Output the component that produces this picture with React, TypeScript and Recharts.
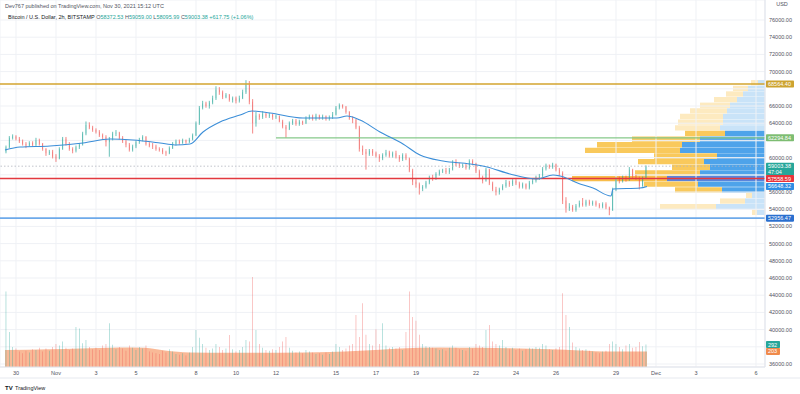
import { ComposedChart, BarChart, Bar, Line, Area, XAxis, YAxis, CartesianGrid, ReferenceLine, Cell } from 'recharts'

// 4h candles from Oct 29 12:00 UTC (day 0 = Oct 30 00:00)
const START_DAY = -0.5
const FIRST_OPEN = 60700

const closes = [
  61200, 62300, 62450,
  62200, 61900, 61600, 61400, 61700, 61500,
  62000, 61600, 61000, 60500, 60700, 60100,
  59900, 61000, 62200, 61600, 61000, 60800,
  61200, 61500, 62800, 63800, 63500, 63200,
  63000, 62600, 62400, 61800, 62200, 62800,
  62900, 62300, 61900, 61500, 60900, 61300,
  61800, 62100, 62400, 61600, 61400, 61300,
  61000, 60900, 60600, 60500, 61100, 61600,
  61900, 61700, 62000, 61800, 62100, 62600,
  64000, 65800, 66300, 66000, 66400, 66900,
  67900, 67600, 67000, 67300, 66700, 66900,
  66600, 66900, 67600, 68500, 66500, 64000,
  64900, 64700, 65100, 64800, 65000, 64700,
  64800, 64200, 63600, 63300, 64000, 64300,
  63900, 64200, 64000, 64600, 64800, 64500,
  64900, 64600, 64800, 64500, 64700, 65000,
  65800, 66100, 65900, 65300, 64600, 64400,
  63500, 61000, 60700, 60400, 60800, 60500,
  60200, 59900, 60300, 60600, 60200, 60500,
  60100, 59800, 60300, 59900, 58500, 57200,
  56900, 56400, 56600, 57100, 57700, 57600,
  58100, 58400, 58500, 58300, 58600, 59500,
  59200, 59000, 59100, 58800, 59600, 59300,
  58400, 57700, 57300, 58600, 57000, 56300,
  56000, 56300, 56700, 57100, 56900, 57300,
  57000, 56600, 56900, 56500, 57100, 57300,
  57700, 57900, 58700, 59100, 58900, 59200,
  58600, 58200, 55000, 54100, 54300, 53900,
  54400, 54700, 54500, 54900, 54600, 54800,
  54500, 54300, 54600, 54200, 53900, 56300,
  57600, 57300, 57700, 57500, 58600, 57800,
  57600, 56700, 57600, 59000,
]

const highs = [
  61400, 62500, 62700,
  62600, 62400, 62100, 61800, 61900, 61900,
  62300, 62200, 61700, 61100, 60900, 60900,
  60400, 61200, 62400, 62400, 61800, 61200,
  61400, 61700, 63000, 64200, 64100, 63700,
  63400, 63200, 62800, 62600, 62400, 63000,
  63200, 63000, 62500, 62100, 61700, 61500,
  62000, 62300, 62600, 62500, 61800, 61700,
  61500, 61200, 61100, 60800, 61300, 61800,
  62100, 62100, 62200, 62100, 62300, 62800,
  64200, 66000, 66600, 66500, 66600, 67200,
  68300, 68200, 67800, 67500, 67400, 67100,
  67100, 67200, 67900, 69000, 68900, 66800,
  65300, 65100, 65400, 65200, 65200, 65100,
  65000, 64900, 64400, 63800, 64200, 64500,
  64500, 64400, 64300, 64800, 65000, 65000,
  65100, 65000, 65000, 64900, 64900, 65300,
  66000, 66300, 66200, 66000, 65400, 64800,
  64500, 63700, 61400, 61000, 61000, 61000,
  60700, 60400, 60500, 60900, 60800, 60700,
  60800, 60300, 60500, 60500, 60000, 58700,
  57500, 57100, 56800, 57300, 57900, 58000,
  58300, 58600, 58700, 58800, 58800, 59700,
  59800, 59400, 59300, 59300, 59800, 59800,
  59400, 58600, 57900, 58800, 58700, 57200,
  56600, 56500, 56900, 57400, 57300, 57500,
  57500, 57200, 57100, 57000, 57300, 57600,
  57900, 58100, 58900, 59300, 59200, 59400,
  59300, 58800, 58400, 55400, 54700, 54500,
  54600, 55000, 55300, 55100, 55100, 55000,
  55000, 54700, 54800, 54800, 54300, 56500,
  57700, 57800, 57900, 57900, 58900, 58700,
  58000, 57800, 57800, 59100,
]

const lows = [
  60500, 61100, 62100,
  62000, 61700, 61400, 61100, 61300, 61300,
  61300, 61400, 60800, 60200, 60300, 59900,
  59500, 59800, 60900, 61400, 60800, 60500,
  60600, 61000, 61400, 62600, 63300, 63000,
  62800, 62400, 62100, 61300, 60100, 62000,
  62500, 62100, 61700, 61200, 60700, 60700,
  61100, 61600, 61900, 61400, 61200, 61000,
  60800, 60700, 60400, 60200, 60400, 61000,
  61400, 61500, 61600, 61600, 61700, 62000,
  62500, 63800, 65600, 65800, 65700, 66200,
  66700, 67300, 66800, 66900, 66500, 66400,
  66300, 66400, 66800, 67400, 66200, 62800,
  63600, 64400, 64500, 64600, 64600, 64400,
  64500, 64100, 63400, 62300, 63200, 63800,
  63700, 63700, 63800, 63900, 64400, 64300,
  64300, 64400, 64400, 64300, 64300, 64500,
  64900, 65600, 65700, 65100, 64400, 64000,
  63300, 60700, 60300, 58600, 60200, 60200,
  60000, 59500, 59700, 60100, 60000, 60000,
  59900, 59500, 59600, 59700, 58300, 56800,
  56500, 55700, 56100, 56400, 56900, 57300,
  57400, 57900, 58200, 58100, 58100, 58500,
  59000, 58800, 58800, 58600, 58600, 59100,
  58200, 57500, 57000, 57200, 56800, 56100,
  55600, 55700, 56200, 56500, 56600, 56700,
  56800, 56400, 56400, 56300, 56300, 56900,
  57100, 57400, 57700, 58500, 58700, 58700,
  58400, 57900, 54600, 53600, 53800, 53700,
  53700, 54200, 54300, 54300, 54400, 54400,
  54300, 54100, 54100, 54000, 53300, 53800,
  56100, 57000, 57100, 57200, 57300, 57600,
  57400, 56300, 56600, 57500,
]

const volumes = [
  980, 455, 260,
  240, 200, 180, 210, 190, 230,
  220, 250, 200, 240, 210, 260,
  300, 280, 330, 250, 220, 240,
  520, 500, 310, 350, 260, 230,
  250, 220, 280, 300, 570, 290,
  230, 260, 240, 210, 280, 250,
  220, 260, 240, 280, 200, 190,
  180, 170, 210, 190, 230, 200,
  170, 160, 180, 150, 190, 260,
  480, 380, 300, 250, 220, 240,
  300, 260, 220, 240, 415, 230,
  200, 220, 260, 350, 330, 1170,
  480, 300, 250, 220, 210, 230,
  220, 260, 330, 390, 250, 210,
  190, 200, 180, 220, 200, 190,
  170, 180, 160, 190, 170, 200,
  300, 260, 220, 240, 280, 300,
  675, 390, 830, 420, 300, 280,
  490, 300, 570, 280, 250, 260,
  240, 260, 220, 455, 980, 650,
  600, 420, 300, 270, 260, 250,
  240, 220, 230, 210, 250, 280,
  250, 230, 220, 210, 260, 240,
  300, 280, 260, 480, 545, 330,
  300, 280, 350, 260, 230, 250,
  220, 240, 210, 230, 250, 240,
  260, 250, 300, 280, 230, 220,
  240, 260, 960, 675, 520, 320,
  260, 240, 220, 230, 210, 200,
  190, 180, 200, 210, 300, 330,
  300, 260, 230, 280, 300, 250,
  260, 325, 270, 292,
]

// moving average (blue line), read at these days
const maDays = [-0.55, 0.2, 1.7, 3.35, 4.7, 5.85, 7.2, 7.95, 8.7, 9.35, 10.2, 11.2, 11.8, 12.7, 14.35, 16.05, 16.55, 17.2, 18.2, 19.35, 20.2, 21.35, 22.7, 23.55, 24.7, 26.05, 26.85, 27.2, 28.2, 28.85, 29.75, 29.85, 31.2, 31.55]
const maValues = [60880, 61230, 61350, 61700, 62160, 62050, 61700, 61470, 61580, 62980, 64140, 64950, 65420, 65190, 64600, 64600, 64840, 64370, 62980, 61580, 60300, 59600, 59260, 58910, 58090, 57510, 57980, 57860, 56930, 56460, 55530, 56350, 56460, 56648]

// volume moving average (orange area)
const volMaDays = [-0.55, 1.7, 3.2, 5.2, 6.45, 7.45, 8.7, 10.7, 13.2, 15.7, 17.2, 19.2, 21.2, 23.2, 24.7, 26.7, 28.2, 29.7, 31.55]
const volMaValues = [220, 230, 240, 255, 250, 215, 190, 185, 185, 195, 210, 240, 255, 250, 245, 230, 215, 200, 203]

// visible range volume profile rows (top to bottom)
const profilePrices = [68690, 68030, 67380, 66720, 66070, 65410, 64760, 64100, 63450, 62790, 62140, 61480, 60830, 60170, 59520, 58860, 58210, 57550, 56900, 56240, 55590, 54930, 54280, 53620]
const profileUp = [7, 17, 22, 28, 35, 38, 42, 42, 45, 40, 65, 83, 85, 48, 61, 55, 65, 98, 67, 43, 13, 20, 49, 8]
const profileDown = [7, 15, 17, 23, 30, 37, 43, 45, 45, 40, 68, 85, 95, 63, 66, 38, 65, 95, 54, 47, 6, 25, 56, 5]
const VA_HIGH = 62790
const VA_LOW = 56240
const POC = 57550

const priceTicks = [36000, 38000, 40000, 42000, 44000, 46000, 48000, 50000, 52000, 54000, 56000, 58000, 60000, 62000, 64000, 66000, 68000, 70000, 72000, 74000, 76000]
// tick labels that sit under the price tags
const hiddenTicks = [38000, 58000, 62000, 68000]
const dayTicks = [0, 2, 4, 6, 9, 11, 13, 16, 18, 20, 23, 25, 27, 30, 32, 34, 37]
const dayLabels = ['30', 'Nov', '3', '5', '8', '10', '12', '15', '17', '19', '22', '24', '26', '29', 'Dec', '3', '6']

const LEVEL_TOP = 68564.4
const LEVEL_GREEN = 62294.84
const LEVEL_POC = 57558.59
const LEVEL_LOW = 52956.47
const LAST_PRICE = 59003.38
const MA_LAST = 56648.32
const LAST_VOL = 292
const VOL_MA_LAST = 203

const X_DOMAIN: [number, number] = [-0.8, 37.45]
const P_DOMAIN: [number, number] = [35651, 78326]
const V_DOMAIN: [number, number] = [0, 4771]

const UP = '#26a69a'
const DOWN = '#ef5350'
const FONT = '"Liberation Sans", Arial, sans-serif'

const candles = closes.map((c, i) => {
  const o = i === 0 ? FIRST_OPEN : closes[i - 1]
  return { t: START_DAY + i / 6, o, h: highs[i], l: lows[i], c, range: [lows[i], highs[i]], vol: volumes[i] }
})
const maData = maDays.map((t, i) => ({ t, v: maValues[i] }))
const volMaData = volMaDays.map((t, i) => ({ t, v: volMaValues[i] }))
const profileRows = profilePrices.map((p, i) => ({ p, up: profileUp[i], down: profileDown[i] }))

function CandleShape(props: any) {
  const { x, y, width, height, payload } = props
  if (!payload || height == null) return null
  const { o, h, l, c } = payload
  const top = Math.min(y, y + height)
  const span = Math.abs(height)
  const k = h === l ? 0 : span / (h - l)
  const py = (v: number) => top + (h - v) * k
  const col = c >= o ? UP : DOWN
  const cx = x + width / 2
  const bTop = py(Math.max(o, c))
  const bH = Math.max(py(Math.min(o, c)) - bTop, 0.7)
  return (
    <g>
      <line x1={cx} x2={cx} y1={top} y2={top + span} stroke={col} strokeWidth={0.7} />
      <rect x={x} y={bTop} width={width} height={bH} fill={col} />
    </g>
  )
}

function tag(text: string, bg: string, w = 28, sub?: string) {
  return (props: any) => {
    const vb = props.viewBox
    if (!vb) return null
    const x = vb.x + vb.width + 1
    const y = vb.y
    const h = sub ? 13 : 7
    return (
      <g>
        <rect x={x} y={y - 3.5} width={w} height={h} fill={bg} rx={0.8} />
        <text x={x + 2} y={y + 2} fontSize={5.5} fill="#fff" fontFamily={FONT}>{text}</text>
        {sub && <text x={x + 2} y={y + 8} fontSize={5.5} fill="#fff" fontFamily={FONT}>{sub}</text>}
      </g>
    )
  }
}

function profileColor(p: number, side: 'up' | 'down') {
  const inVa = p <= VA_HIGH + 1 && p >= VA_LOW - 1
  if (p === POC) return side === 'up' ? '#5a84dc' : '#f8bd4a'
  if (side === 'up') return inVa ? '#4ea3ea' : '#c9e3f8'
  return inVa ? '#f9c95c' : '#fdeac0'
}

export default function App() {
  return (
    <div style={{ position: 'absolute', left: 0, top: 0, width: 800, height: 394, background: '#fff', overflow: 'hidden', fontFamily: FONT }}>
      {/* volume profile, drawn under the candles */}
      <div style={{ position: 'absolute', left: 0, top: 0 }}>
        <BarChart layout="vertical" width={800} height={378} data={profileRows} margin={{ top: 0, right: 35, bottom: 11, left: 0 }}>
          <XAxis type="number" domain={[0, 765]} reversed hide allowDataOverflow />
          <YAxis type="number" dataKey="p" domain={P_DOMAIN} reversed hide allowDataOverflow />
          <Bar dataKey="up" stackId="vp" barSize={5.3} isAnimationActive={false}>
            {profileRows.map((r) => <Cell key={r.p} fill={profileColor(r.p, 'up')} />)}
          </Bar>
          <Bar dataKey="down" stackId="vp" barSize={5.3} isAnimationActive={false}>
            {profileRows.map((r) => <Cell key={r.p} fill={profileColor(r.p, 'down')} />)}
          </Bar>
        </BarChart>
      </div>

      <div style={{ position: 'absolute', left: 0, top: 0 }}>
        <ComposedChart width={800} height={378} data={candles} margin={{ top: 0, right: 0, bottom: 0, left: 0 }}>
          <CartesianGrid stroke="#eff1f5" xAxisId="main" yAxisId="price" />
          <XAxis
            xAxisId="main"
            dataKey="t"
            type="number"
            domain={X_DOMAIN}
            allowDataOverflow
            ticks={dayTicks}
            tickFormatter={(v: number) => dayLabels[dayTicks.indexOf(v)] ?? ''}
            height={11}
            tickSize={0}
            tickMargin={4}
            tick={{ fontSize: 5.5, fill: '#50535e', fontFamily: FONT }}
            axisLine={{ stroke: '#e0e3eb' }}
            interval={0}
          />
          <XAxis xAxisId="vol" dataKey="t" type="number" domain={X_DOMAIN} allowDataOverflow hide />
          <YAxis
            yAxisId="price"
            orientation="right"
            width={35}
            type="number"
            domain={P_DOMAIN}
            allowDataOverflow
            ticks={priceTicks}
            interval={0}
            tickFormatter={(v: number) => (hiddenTicks.includes(v) ? '' : v.toFixed(2))}
            tickSize={0}
            tickMargin={4}
            tick={{ fontSize: 5.5, fill: '#50535e', fontFamily: FONT, textAnchor: 'start' }}
            axisLine={{ stroke: '#e0e3eb' }}
          />
          <YAxis yAxisId="vol" type="number" domain={V_DOMAIN} allowDataOverflow hide />

          <Area data={volMaData} dataKey="v" xAxisId="vol" yAxisId="vol" type="monotone" stroke="none" fill="#f8ad85" fillOpacity={0.85} dot={false} activeDot={false} isAnimationActive={false} />
          <Bar dataKey="vol" xAxisId="vol" yAxisId="vol" barSize={1.6} isAnimationActive={false}>
            {candles.map((d, i) => <Cell key={i} fill={d.c >= d.o ? 'rgba(38,166,154,0.55)' : 'rgba(239,83,80,0.55)'} />)}
          </Bar>

          <ReferenceLine xAxisId="main" yAxisId="price" y={LAST_PRICE} stroke="#b2b5be" strokeDasharray="1.5 2" strokeWidth={0.8} label={tag('59003.38', '#26a69a', 28, '47:04')} />
          <ReferenceLine xAxisId="main" yAxisId="price" y={LEVEL_TOP} stroke="#d3a52f" strokeWidth={1.5} label={tag('68564.40', '#cda32f')} />
          <ReferenceLine
            xAxisId="main"
            yAxisId="price"
            segment={[{ x: 13, y: LEVEL_GREEN }, { x: X_DOMAIN[1], y: LEVEL_GREEN }]}
            stroke="#86c98a"
            strokeWidth={1.2}
            label={tag('62294.84', '#7dbd72')}
          />
          <ReferenceLine xAxisId="main" yAxisId="price" y={LEVEL_POC} stroke="#e2393f" strokeWidth={1.5} label={tag('57558.59', '#e8343c')} />
          <ReferenceLine xAxisId="main" yAxisId="price" y={MA_LAST} stroke="none" label={tag('56648.32', '#2f8de4')} />
          <ReferenceLine xAxisId="main" yAxisId="price" y={LEVEL_LOW} stroke="#6eaaea" strokeWidth={1.8} label={tag('52956.47', '#2a6fcf')} />
          <ReferenceLine xAxisId="vol" yAxisId="vol" y={LAST_VOL} stroke="none" label={tag('292', '#26a69a', 14)} />
          <ReferenceLine xAxisId="vol" yAxisId="vol" y={VOL_MA_LAST} stroke="none" label={tag('203', '#f08a4b', 14)} />

          <Bar dataKey="range" xAxisId="main" yAxisId="price" barSize={2} shape={CandleShape} isAnimationActive={false} />
          <Line data={maData} dataKey="v" xAxisId="main" yAxisId="price" type="monotone" dot={false} activeDot={false} stroke="#3b8ed8" strokeWidth={1.1} isAnimationActive={false} />
        </ComposedChart>
      </div>

      <svg width={800} height={394} style={{ position: 'absolute', left: 0, top: 0, pointerEvents: 'none' }} fontFamily={FONT}>
        <text x={5} y={8} fontSize={5.5} fill="#50535e">Dev767 published on TradingView.com, Nov 30, 2021 15:12 UTC</text>
        <text x={8} y={19} fontSize={5.5} fill="#131722">
          Bitcoin / U.S. Dollar, 2h, BITSTAMP{'  '}
          <tspan fill="#50535e">O</tspan><tspan fill={UP}>58372.53 </tspan>
          <tspan fill="#50535e">H</tspan><tspan fill={UP}>59059.00 </tspan>
          <tspan fill="#50535e">L</tspan><tspan fill={UP}>58095.99 </tspan>
          <tspan fill="#50535e">C</tspan><tspan fill={UP}>59003.38 +617.75 (+1.06%)</tspan>
        </text>
        <text x={782} y={6} fontSize={5.5} fill="#50535e" textAnchor="middle">USD</text>
        <line x1={0} x2={800} y1={378} y2={378} stroke="#e0e3eb" strokeWidth={0.8} />
        <text x={5} y={390} fontSize={6} fontWeight="bold" fill="#131722">TV</text>
        <text x={15} y={390} fontSize={5.5} fill="#131722">TradingView</text>
      </svg>
    </div>
  )
}
